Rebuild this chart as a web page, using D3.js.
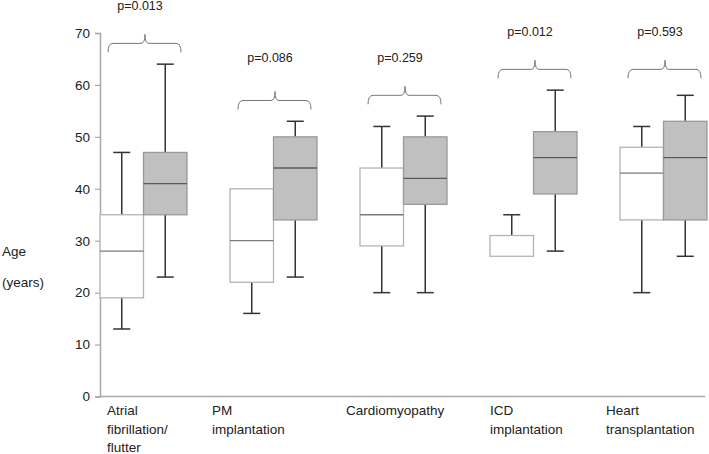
<!DOCTYPE html>
<html><head><meta charset="utf-8">
<script src="https://cdn.jsdelivr.net/npm/d3@7"></script>
<style>body{margin:0;background:#fff}svg{display:block;font-family:"Liberation Sans",Arial,sans-serif}</style>
</head><body><svg id="c" width="709" height="454"></svg>
<script>
const categories = ["Atrial fibrillation/ flutter","PM implantation","Cardiomyopathy","ICD implantation","Heart transplantation"];
const categoryLines = [["Atrial","fibrillation/","flutter"],["PM","implantation"],["Cardiomyopathy"],["ICD","implantation"],["Heart","transplantation"]];
const seriesNames = ["white","gray"];
const whiteMin = [13,16,20,27,20];
const whiteQ1  = [19,22,29,27,34];
const whiteMed = [28,30,35,27,43];
const whiteQ3  = [35,40,44,31,48];
const whiteMax = [47,40,52,35,52];
const grayMin  = [23,23,20,28,27];
const grayQ1   = [35,34,37,39,34];
const grayMed  = [41,44,42,46,46];
const grayQ3   = [47,50,50,51,53];
const grayMax  = [64,53,54,59,58];
const pLabels  = ["p=0.013","p=0.086","p=0.259","p=0.012","p=0.593"];
const bracketLevel = [68,57,58,63,63];
const pLevel = [75,65,65,70,70];
const yTicks = [0,10,20,30,40,50,60,70];

const svg = d3.select("#c");
const y = d3.scaleLinear().domain([0,70]).range([396.5,33]);
const x = d3.scaleBand().domain(categories).range([100,750]).padding(0);
const xs = d3.scaleBand().domain(seriesNames).range([0,87]).padding(0);
const labelDx = [7,-18,-14,0,-14];

const styles = {
  white:{fill:"#ffffff",stroke:"#b4b4b4",median:"#7a7a7a"},
  gray:{fill:"#c0c0c0",stroke:"#9a9a9a",median:"#5a5a5a"}
};

const yAxis = d3.axisLeft(y).tickValues(yTicks).tickSize(5).tickPadding(5).tickFormat(d3.format("d"));
const ga = svg.append("g").attr("transform","translate(100,0)").call(yAxis);
ga.select(".domain").attr("stroke","#a8a8a8").attr("stroke-width",1.5);
ga.selectAll(".tick line").attr("stroke","#a8a8a8").attr("stroke-width",1.2);
ga.selectAll(".tick text").attr("fill","#222").style("font-size","13.5px");

svg.append("line").attr("x1",100).attr("x2",705).attr("y1",y(0)).attr("y2",y(0))
  .attr("stroke","#a8a8a8").attr("stroke-width",1.5);

const data = [];
categories.forEach((c,i)=>{
  data.push({c,s:"white",min:whiteMin[i],q1:whiteQ1[i],med:whiteMed[i],q3:whiteQ3[i],max:whiteMax[i]});
  data.push({c,s:"gray",min:grayMin[i],q1:grayQ1[i],med:grayMed[i],q3:grayQ3[i],max:grayMax[i]});
});
const bw = xs.bandwidth();
const capW = 17;
data.forEach(d=>{
  const x0 = x(d.c)+xs(d.s);
  const cx = x0+bw/2;
  const st = styles[d.s];
  const g = svg.append("g");
  if (d.max>d.q3){
    g.append("line").attr("x1",cx).attr("x2",cx).attr("y1",y(d.q3)).attr("y2",y(d.max)).attr("stroke","#333").attr("stroke-width",1.5);
    g.append("line").attr("x1",cx-capW/2).attr("x2",cx+capW/2).attr("y1",y(d.max)).attr("y2",y(d.max)).attr("stroke","#333").attr("stroke-width",1.5);
  }
  if (d.min<d.q1){
    g.append("line").attr("x1",cx).attr("x2",cx).attr("y1",y(d.q1)).attr("y2",y(d.min)).attr("stroke","#333").attr("stroke-width",1.5);
    g.append("line").attr("x1",cx-capW/2).attr("x2",cx+capW/2).attr("y1",y(d.min)).attr("y2",y(d.min)).attr("stroke","#333").attr("stroke-width",1.5);
  }
  g.append("rect").attr("x",x0).attr("width",bw).attr("y",y(d.q3)).attr("height",y(d.q1)-y(d.q3))
    .attr("fill",st.fill).attr("stroke",st.stroke).attr("stroke-width",1.3);
  if (d.med>d.q1 && d.med<d.q3){
    g.append("line").attr("x1",x0).attr("x2",x0+bw).attr("y1",y(d.med)).attr("y2",y(d.med)).attr("stroke",st.median).attr("stroke-width",1.3);
  }
});

categories.forEach((c,i)=>{
  const gx = x(c);
  const x1 = gx+8, x2 = gx+81, xm = gx+45;
  const yb = y(bracketLevel[i]);
  const p = `M${x1},${yb+9} Q${x1},${yb} ${x1+5},${yb} L${xm-4},${yb} Q${xm},${yb} ${xm},${yb-9} Q${xm},${yb} ${xm+4},${yb} L${x2-5},${yb} Q${x2},${yb} ${x2},${yb+9}`;
  svg.append("path").attr("d",p).attr("fill","none").attr("stroke","#777").attr("stroke-width",1);
  svg.append("text").attr("x",gx+40).attr("y",y(pLevel[i])).attr("text-anchor","middle")
    .attr("dominant-baseline","middle").style("font-size","12.5px").attr("fill","#222").text(pLabels[i]);
});

categories.forEach((c,i)=>{
  const lx = x(c)+labelDx[i];
  const t = svg.append("text").attr("x",lx).attr("y",415).style("font-size","13.5px").attr("fill","#222");
  categoryLines[i].forEach((ln,j)=>{
    t.append("tspan").attr("x",lx).attr("dy",j===0?0:18.5).text(ln);
  });
});

svg.append("text").attr("x",2).attr("y",256).style("font-size","13.5px").attr("fill","#222").text("Age");
svg.append("text").attr("x",2).attr("y",287).style("font-size","13.5px").attr("fill","#222").text("(years)");
</script></body></html>
